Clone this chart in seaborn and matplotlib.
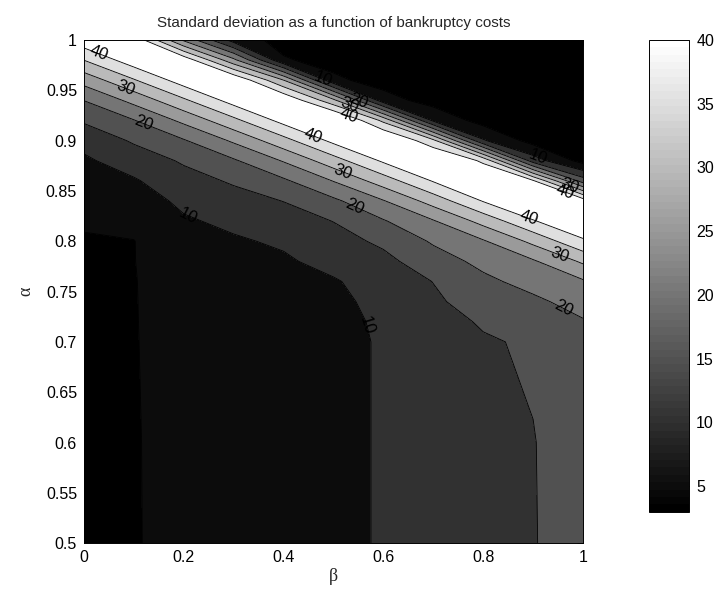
import numpy as np
import seaborn as sns
import matplotlib
matplotlib.use("Agg")
import matplotlib.pyplot as plt
from matplotlib.colors import Normalize
from matplotlib.cm import ScalarMappable

# grid
beta = [0.0, 0.1, 0.2, 0.3, 0.4, 0.5, 0.6, 0.7, 0.8, 0.9, 1.0]
alpha = [0.5, 0.6, 0.7, 0.72, 0.74, 0.76, 0.78, 0.8, 0.82, 0.84,
         0.86, 0.88, 0.9, 0.92, 0.94, 0.96, 0.98, 1.0]

# standard deviation, one list per beta column (alpha from 0.5 up to 1)
sd_b00 = [3.8, 3.9, 4.0, 4.0, 4.1, 4.1, 4.2, 4.3, 5.85, 6.99, 8.13, 9.26, 11.46, 15.65, 20.1, 26.9, 35.1, 43.3]
sd_b01 = [4.8, 4.8, 4.85, 4.85, 4.85, 4.85, 4.9, 4.9, 6.23, 7.87, 9.51, 12.26, 15.63, 19.8, 26.5, 34.6, 42.9, 44.0]
sd_b02 = [6.0, 6.1, 6.3, 6.5, 6.7, 7.0, 7.8, 8.67, 9.5, 10.9, 13.1, 15.6, 19.6, 26.2, 34.2, 42.5, 43.5, 24.0]
sd_b03 = [6.5, 6.7, 7.0, 7.2, 7.5, 7.9, 8.7, 9.5, 10.9, 13.1, 15.6, 19.4, 25.8, 33.75, 42.1, 45.0, 26.25, 7.7]
sd_b04 = [7.0, 7.2, 7.6, 7.9, 8.3, 8.8, 9.4, 10.6, 12.8, 15.1, 19.2, 25.4, 33.3, 41.7, 45.0, 30.0, 5.5, 3.2]
sd_b05 = [8.5, 8.5, 8.5, 8.6, 8.9, 9.6, 11.4, 13.2, 15.1, 19.0, 25.2, 32.9, 41.3, 48.0, 31.25, 6.0, 3.2, 3.1]
sd_b06 = [10.5, 10.5, 10.5, 10.75, 11.35, 12.0, 13.7, 15.9, 19.6, 24.7, 32.5, 40.8, 47.0, 33.75, 7.0, 3.0, 3.0, 3.0]
sd_b07 = [12.0, 12.3, 13.0, 13.5, 14.2, 15.1, 17.7, 20.6, 24.6, 32.1, 40.4, 47.0, 36.25, 9.0, 3.0, 3.0, 3.0, 3.0]
sd_b08 = [13.5, 13.8, 14.6, 15.4, 17.2, 18.9, 21.3, 24.5, 31.7, 40.3, 46.0, 39.0, 10.5, 3.0, 3.0, 3.0, 3.0, 3.0]
sd_b09 = [14.8, 14.85, 15.5, 17.0, 19.0, 21.7, 24.4, 31.25, 39.6, 46.0, 40.6, 12.5, 3.0, 3.0, 3.0, 3.0, 3.0, 3.0]
sd_b10 = [17.0, 17.2, 18.6, 19.6, 21.95, 24.4, 30.8, 39.2, 45.0, 43.0, 17.5, 3.0, 3.0, 3.0, 3.0, 3.0, 3.0, 3.0]

levels = [3, 5, 10, 15, 20, 25, 30, 35, 40, 50]
label_levels = [10, 20, 30, 40]
plain_levels = [5, 15, 25, 35]
cbar_ticks = [5, 10, 15, 20, 25, 30, 35, 40]
x_ticks = [0, 0.2, 0.4, 0.6, 0.8, 1]
y_ticks = [0.5, 0.55, 0.6, 0.65, 0.7, 0.75, 0.8, 0.85, 0.9, 0.95, 1]

# where the contour labels sit in the reference
label_spots = [(0.03, 0.988), (0.085, 0.955), (0.12, 0.918), (0.21, 0.827),
               (0.46, 0.906), (0.52, 0.871), (0.54, 0.832), (0.56, 0.715),
               (0.89, 0.82), (0.95, 0.784), (0.96, 0.733),
               (0.48, 0.962), (0.55, 0.94), (0.53, 0.932), (0.53, 0.924),
               (0.91, 0.884), (0.975, 0.858), (0.96, 0.843)]

sns.set_theme(style="white")
plt.rcParams['font.family'] = ['Liberation Sans', 'DejaVu Sans']
plt.rcParams['axes.edgecolor'] = 'black'
plt.rcParams['axes.linewidth'] = 0.7

Z = np.column_stack([sd_b00, sd_b01, sd_b02, sd_b03, sd_b04, sd_b05,
                     sd_b06, sd_b07, sd_b08, sd_b09, sd_b10])

cmap = sns.color_palette("gray", as_cmap=True).resampled(64)
norm = Normalize(vmin=3, vmax=40)
# matlab-style: each band takes the colour of its lower level
fills = [cmap(norm(v)) for v in levels[:-1]]

fig = plt.figure(figsize=(7.18, 5.95), dpi=100)
ax = fig.add_axes([0.117, 0.087, 0.695, 0.846])
ax.contourf(beta, alpha, Z, levels=levels, colors=fills)
ax.contour(beta, alpha, Z, levels=plain_levels, colors='black', linewidths=0.6)
cs = ax.contour(beta, alpha, Z, levels=label_levels, colors='black', linewidths=0.6)
ax.clabel(cs, inline=False, fontsize=12, fmt='%d', manual=label_spots)

ax.set_xlim(0, 1)
ax.set_ylim(0.5, 1)
ax.set_xticks(x_ticks)
ax.set_xticklabels([f"{t:g}" for t in x_ticks])
ax.set_yticks(y_ticks)
ax.set_yticklabels([f"{t:g}" for t in y_ticks])
ax.tick_params(direction='in', top=True, right=True, length=4, width=0.6,
               labelsize=11.5, colors='black', pad=5)
ax.set_xlabel('β', family=['Liberation Serif', 'DejaVu Serif'], fontsize=13, labelpad=2)
ax.set_ylabel('α', family=['Liberation Serif', 'DejaVu Serif'], fontsize=13, labelpad=8)
ax.set_title('Standard deviation as a function of bankruptcy costs', fontsize=11, pad=9)

cax = fig.add_axes([0.904, 0.14, 0.056, 0.793])
cb = fig.colorbar(ScalarMappable(norm=norm, cmap=cmap), cax=cax, ticks=cbar_ticks)
cb.outline.set_linewidth(0.7)
cax.tick_params(direction='in', left=True, right=True, length=4, width=0.6,
                labelsize=11.5, colors='black', pad=5)

fig.savefig('out.png', dpi=100)
